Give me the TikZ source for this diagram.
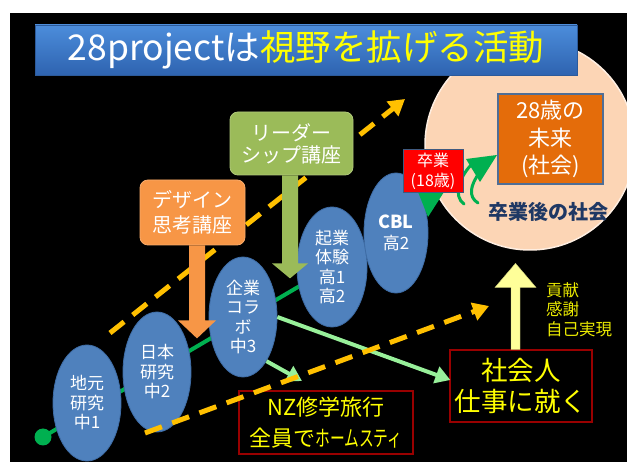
\documentclass[tikz,border=0pt]{standalone}
\usepackage{fontspec}
\usepackage{graphicx}
\setmainfont{Noto Sans CJK JP}
\usetikzlibrary{shapes.geometric,arrows.meta,calc}
\definecolor{titletop}{HTML}{4C8DDB}
\definecolor{titlebot}{HTML}{2E63B0}
\definecolor{titleborder}{HTML}{2C5A9A}
\definecolor{peach}{HTML}{FCD5B5}
\definecolor{stageblue}{HTML}{4F81BD}
\definecolor{stageborder}{HTML}{3E6CA5}
\definecolor{gline}{HTML}{00B050}
\definecolor{dashy}{HTML}{FFC000}
\definecolor{lightgr}{HTML}{98F09A}
\definecolor{designorange}{HTML}{F79646}
\definecolor{leadergreen}{HTML}{9BBB59}
\definecolor{futureorange}{HTML}{E46C0A}
\definecolor{futureborder}{HTML}{4F6E96}
\definecolor{redbox}{HTML}{FF0000}
\definecolor{redborder}{HTML}{3F5A80}
\definecolor{navytext}{HTML}{1F3864}
\definecolor{boxred}{HTML}{990000}
\definecolor{paleyellow}{HTML}{FFFF99}
\definecolor{ytext}{HTML}{FFFF00}
\tikzset{
  stage/.style={ellipse, fill=stageblue, draw=stageborder, line width=0.8pt, inner sep=0pt,
    text=white, align=center, font=\fontsize{17}{19.5}\selectfont},
  callout/.style={rectangle, rounded corners=8pt, inner sep=0pt, text=white, align=center},
  yellowbox/.style={rectangle, draw=boxred, line width=1.2pt, fill=black, inner sep=0pt,
    text=ytext, align=center},
  dasharrow/.style={draw=dashy, line width=5pt, dash pattern=on 18pt off 11pt,
    -{Triangle[length=16pt,width=18pt]}},
  lgarrow/.style={draw=lightgr, line width=4pt, -{Triangle[length=15pt,width=17pt]}},
}
\begin{document}
\begin{tikzpicture}[x=1pt,y=-1pt]
\useasboundingbox (0,0) rectangle (627,462);
\fill[white] (0,0) rectangle (627,462);
\fill[black] (10,13) rectangle (627,462);
\begin{scope}
\clip (10,13) rectangle (627,462);
\node[circle, fill=peach, draw=white!60!peach, line width=1.5pt, minimum size=210pt, inner sep=0pt] (world) at (530,145) {};
\end{scope}

% title
\node[rectangle, top color=titletop, bottom color=titlebot, draw=titleborder, line width=0.8pt,
  minimum width=542pt, minimum height=50pt, inner sep=0pt,
  font=\fontsize{35.5}{40}\selectfont] (title) at (306,50)
  {\color{white}28projectは\color{ytext}視野を拡げる活動};

% green progress line
\coordinate (start) at (43,437);
\coordinate (e4c) at (332,267);
\draw[gline, line width=4pt] (start) -- (e4c);
\fill[gline] (start) circle (8.5pt);

% stages
\node[stage, minimum width=68pt, minimum height=116pt] (e1) at (87,403) {地元\\研究\\中1};
\node[stage, minimum width=68pt, minimum height=120pt] (e2) at (157,372) {日本\\研究\\中2};
\node[stage, minimum width=68pt, minimum height=120pt] (e3) at (243,317) {企業\\コラ\\ボ\\中3};
\node[stage, minimum width=70pt, minimum height=120pt] (e4) at (e4c) {起業\\体験\\高1\\高2};
\node[stage, minimum width=64pt, minimum height=120pt, font=\fontsize{17}{21}\selectfont] (e5) at (396,233) {{\fontsize{18}{21}\selectfont\bfseries CBL}\\高2};

% boxes at the bottom
\node[yellowbox, minimum width=174pt, minimum height=63pt, font=\fontsize{22}{31}\selectfont] (nz) at (326,422.5)
  {NZ修学旅行\\全員で\scalebox{0.67}[1]{ホームスティ}};
\node[yellowbox, minimum width=142pt, minimum height=72pt, font=\fontsize{26.5}{31}\selectfont] (shakai) at (521,386)
  {社会人\\仕事に就く};

% light green arrows
\coordinate (nzend) at (302,381);
\coordinate (shend) at ($(shakai.west)+(1,-6)$);
\draw[lgarrow] (e3.-62) -- (nzend);
\draw[lgarrow] (e3.east) -- (shend);

% dashed arrows
\coordinate (u0) at (110,333);
\coordinate (u1) at (405,99);
\coordinate (l0) at (145,433);
\coordinate (l1) at (489,306);
\draw[dasharrow] (u0) -- (u1);
\draw[dasharrow] (l0) -- (l1);

% callouts
\node[callout, fill=designorange, draw=designorange!80!white, line width=0.8pt,
  minimum width=105pt, minimum height=65pt, font=\fontsize{20}{25}\selectfont] (design) at (192.5,212.5)
  {デザイン\\思考講座};
\fill[designorange] ($(design.south)+(-3.5,0)$) -- ++(16,0) -- ++(0,75) -- ++(11,0)
  -- ++(-19,18) -- ++(-19,-18) -- ++(11,0) -- cycle;
\node[callout, fill=leadergreen, draw=leadergreen!80!white, line width=0.8pt,
  minimum width=123pt, minimum height=63pt, font=\fontsize{20}{22}\selectfont] (leader) at (291.5,143.5)
  {リーダー\\シップ講座};
\fill[leadergreen] ($(leader.south)+(-9.5,0)$) -- ++(16,0) -- ++(0,88) -- ++(10,0)
  -- ++(-18,15) -- ++(-18,-15) -- ++(10,0) -- cycle;

% green arrow from graduation to the future (broken)
\fill[gline] (418,192) -- (444,192) -- (428,217) -- cycle;
\fill[gline] (466,159) -- (497,155) -- (480,182) -- cycle;
\draw[gline, line width=3pt, line cap=round] (471,165) .. controls (459,178) and (453,196) .. (464,204);
\draw[gline, line width=3pt, line cap=round] (480,172) .. controls (470,185) and (468,197) .. (478,203);

% future and graduation
\node[rectangle, fill=futureorange, draw=futureborder, line width=1.5pt, minimum width=105pt,
  minimum height=90pt, inner sep=0pt, text=white, align=center,
  font=\fontsize{22}{27.5}\selectfont] (future) at (550.5,139) {28歳の\\未来\\(社会)};
\node[rectangle, fill=redbox, draw=redborder, line width=1pt, minimum width=60pt,
  minimum height=43pt, inner sep=0pt, text=white, align=center,
  font=\fontsize{16}{20}\selectfont] (grad) at (433,171.5) {卒業\\(18歳)};
\node[text=navytext, font=\fontsize{20}{24}\selectfont\bfseries] (society) at (548,212) {卒業後の社会};

% upward arrow
\fill[paleyellow, draw=paleyellow!80!black, line width=0.4pt] ($(shakai.north)+(-10,0)$) -- ++(9,0) -- ++(0,-62)
  -- ++(16,0) -- ++(-20.5,-24) -- ++(-20.5,24) -- ++(16,0) -- cycle;
\node[anchor=west, text=ytext!92!black, align=left, inner sep=0pt,
  font=\fontsize{16.5}{19.5}\selectfont] (values) at (546,309.5) {貢献\\感謝\\自己実現};
\end{tikzpicture}
\end{document}
